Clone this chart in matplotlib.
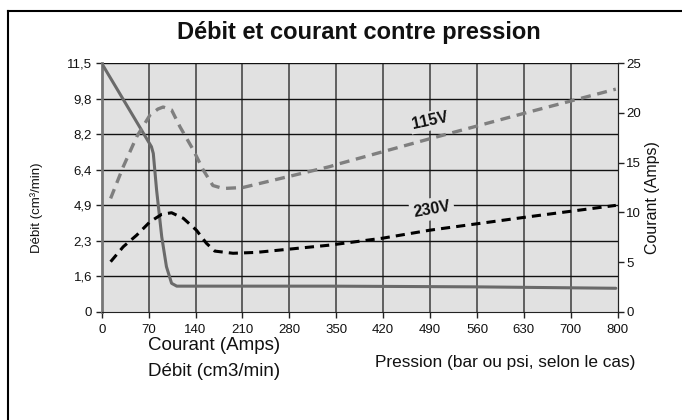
import matplotlib
matplotlib.use("Agg")
import matplotlib.pyplot as plt
from matplotlib.lines import Line2D

plt.rcParams['font.family'] = ['Liberation Sans', 'DejaVu Sans']

# ---- data ----
# x positions are in grid units (one unit per labelled column)
x_labels = ['0', '70', '140', '210', '280', '350', '420', '490', '560', '630', '700', '800']
debit_labels = ['0', '1,6', '2,3', '4,9', '6,4', '8,2', '9,8', '11,5']

# Débit curve, left axis (in tick-position units)
debit_x = [0.0, 1.06, 1.10, 1.17, 1.28, 1.38, 1.49, 1.60, 2.5, 4.86, 6.5, 7.98, 9.5, 10.96]
debit_y = [7.0, 4.65, 4.46, 3.43, 2.11, 1.27, 0.80, 0.72, 0.72, 0.72, 0.71, 0.70, 0.68, 0.66]

# Courant 115V (Amps)
i115_x = [0.19, 0.46, 0.745, 1.03, 1.20, 1.31, 1.49, 1.67, 1.95, 2.16, 2.37, 2.59, 3.01, 4.86, 5.07, 6.99, 9.11, 10.96]
i115_y = [11.4, 14.6, 17.6, 19.8, 20.4, 20.6, 20.3, 18.6, 16.3, 14.3, 12.7, 12.4, 12.5, 14.6, 14.9, 17.4, 20.1, 22.4]

# Courant 230V (Amps)
i230_x = [0.19, 0.46, 0.745, 1.03, 1.28, 1.49, 1.74, 2.02, 2.23, 2.41, 2.80, 3.30, 4.86, 5.99, 6.99, 9.11, 10.96]
i230_y = [5.03, 6.54, 7.7, 9.05, 9.8, 9.96, 9.4, 8.2, 6.9, 6.1, 5.88, 5.97, 6.7, 7.4, 8.2, 9.56, 10.7]

amps_ticks = [0, 5, 10, 15, 20, 25]

# ---- figure ----
fig = plt.figure(figsize=(6.82, 4.20), dpi=100)
bg = '#e1e1e1'
ax = fig.add_axes([101.7/682, 1-311.7/420, 516/682, 248.4/420])
ax.set_facecolor(bg)
ax.set_xlim(0, len(x_labels)-1)
ax.set_ylim(0, len(debit_labels)-1)
ax.set_xticks(range(len(x_labels)))
ax.set_xticklabels(x_labels)
ax.set_yticks(range(len(debit_labels)))
ax.set_yticklabels(debit_labels)
ax.tick_params(axis='both', labelsize=9.5, length=4, width=1, color='#222222', pad=3,
               labelcolor='#111111')
ax.tick_params(axis='x', pad=5)

for i in range(1, len(x_labels)-1):
    ax.axvline(i, color='#555555', lw=1.3, zorder=1)
for j in range(1, len(debit_labels)):
    ax.axhline(j, color='#111111', lw=1.0, zorder=1)

ax.spines['top'].set_visible(False)
ax.spines['left'].set_color('#777777')
ax.spines['left'].set_linewidth(2)
ax.spines['bottom'].set_color('#222222')
ax.spines['right'].set_color('#222222')

ax.plot(debit_x, debit_y, color='#6a6a6a', lw=2.2, zorder=3, solid_capstyle='round',
        solid_joinstyle='round')

ax2 = ax.twinx()
ax2.set_ylim(0, 25)
ax2.set_yticks(amps_ticks)
ax2.tick_params(axis='y', labelsize=9.5, length=4, width=1, color='#222222', pad=2,
                labelcolor='#111111')
ax2.patch.set_visible(False)
for s in ['top', 'left', 'bottom']:
    ax2.spines[s].set_visible(False)
ax2.spines['right'].set_color('#222222')

ax2.plot(i115_x, i115_y, color='#7f7f7f', lw=2.4, dashes=(3, 2), zorder=3,
         solid_joinstyle='round', dash_joinstyle='round')
ax2.plot(i230_x, i230_y, color='#000000', lw=2.2, dashes=(3, 2), zorder=3,
         dash_joinstyle='round')

ax2.text(7.0, 19.2, '115V', rotation=12, ha='center', va='center', fontsize=11.5,
         fontweight='bold', color='#111111',
         bbox=dict(facecolor=bg, edgecolor='none', pad=1.5), zorder=4)
ax2.text(7.04, 10.33, '230V', rotation=10, ha='center', va='center', fontsize=11.5,
         fontweight='bold', color='#111111',
         bbox=dict(facecolor=bg, edgecolor='none', pad=2.5), zorder=4)

# titles and labels
fig.text(359/682, 1-32/420, 'Débit et courant contre pression', ha='center', va='center',
         fontsize=17, fontweight='bold', color='#111111')
fig.text(37/682, 1-208/420, 'Débit (cm³/min)', rotation=90, ha='center', va='center',
         fontsize=9.5, color='#111111')
fig.text(653/682, 1-198/420, 'Courant (Amps)', rotation=90, ha='center', va='center',
         fontsize=11.5, color='#111111')
fig.text(148/682, 1-346/420, 'Courant (Amps)', ha='left', va='center', fontsize=13.5,
         color='#111111')
fig.text(148/682, 1-371/420, 'Débit (cm3/min)', ha='left', va='center', fontsize=13.5,
         color='#111111')
fig.text(375/682, 1-362/420, 'Pression (bar ou psi, selon le cas)', ha='left', va='center',
         fontsize=12.4, color='#111111')

# outer frame (left and top edges)
fig.add_artist(Line2D([8/682, 8/682], [0, 1-10.5/420], transform=fig.transFigure,
                      color='black', lw=1.5))
fig.add_artist(Line2D([8/682, 1], [1-10.5/420, 1-10.5/420], transform=fig.transFigure,
                      color='black', lw=1.5))

fig.savefig('out.png', dpi=100)
